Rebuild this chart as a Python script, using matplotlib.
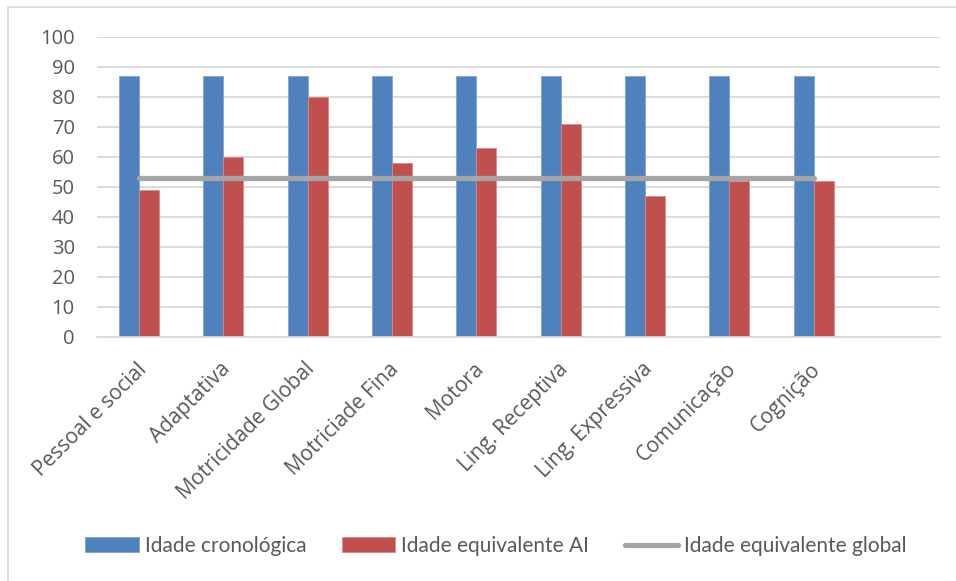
import matplotlib
matplotlib.use("Agg")
import matplotlib.pyplot as plt
import numpy as np
from matplotlib.patches import Rectangle

categories = ["Pessoal e social", "Adaptativa", "Motricidade Global", "Motriciade Fina",
              "Motora", "Ling. Receptiva", "Ling. Expressiva", "Comunicação", "Cognição"]
idade_cronologica = [87, 87, 87, 87, 87, 87, 87, 87, 87]
idade_equivalente_ai = [49, 60, 80, 58, 63, 71, 47, 52, 52]
idade_equivalente_global = [53, 53, 53, 53, 53, 53, 53, 53, 53]
y_ticks = [0, 10, 20, 30, 40, 50, 60, 70, 80, 90, 100]

blue = "#4f81bd"
red = "#c0504d"
gray = "#a5a5a5"
text_col = "#595959"
grid_col = "#d9d9d9"

fig = plt.figure(figsize=(9.56, 5.81), dpi=100)
fig.patches.append(Rectangle((8 / 956, -0.1), 1.2, (581 - 7) / 581 + 0.1,
                             transform=fig.transFigure, fill=False,
                             edgecolor=grid_col, linewidth=1.2, zorder=0))

ax = fig.add_axes([97 / 956, (581 - 337) / 581, (940 - 97) / 956, (337 - 36.7) / 581])

x = np.arange(len(categories))
w = 0.237
h1 = ax.bar(x - w / 2, idade_cronologica, width=w, color=blue, edgecolor="#7fa3d1",
            linewidth=0.6, label="Idade cronológica", zorder=2)
h2 = ax.bar(x + w / 2, idade_equivalente_ai, width=w, color=red, edgecolor="#d88a88",
            linewidth=0.6, label="Idade equivalente AI", zorder=2)
h3, = ax.plot(x, idade_equivalente_global, color=gray, linewidth=3.8,
              solid_capstyle="round", label="Idade equivalente global", zorder=3)

ax.set_xlim(-0.5, len(categories) + 0.5)
ax.set_ylim(0, 100)
ax.set_yticks(y_ticks)
ax.set_yticklabels([str(v) for v in y_ticks], fontsize=14.5, color=text_col,
                   family="Open Sans")
ax.yaxis.grid(True, color=grid_col, linewidth=1.3, zorder=0)
ax.set_axisbelow(True)
for s in ["left", "right", "top"]:
    ax.spines[s].set_visible(False)
ax.spines["bottom"].set_color(grid_col)
ax.spines["bottom"].set_linewidth(1.3)
ax.tick_params(axis="y", length=0, pad=16)
ax.tick_params(axis="x", length=0, pad=21)

ax.set_xticks(x + 0.05)
ax.set_xticklabels(categories, rotation=45, ha="right", va="center",
                   rotation_mode="anchor", fontsize=15, color=text_col,
                   family="Open Sans")

leg = fig.legend(handles=[h1, h2, h3], loc="center",
                 bbox_to_anchor=(496 / 956, (581 - 546) / 581),
                 ncol=3, frameon=False, handlelength=2.55, handleheight=0.7,
                 handletextpad=0.3, columnspacing=1.7,
                 prop={"family": "Lato", "size": 15})
for t in leg.get_texts():
    t.set_color(text_col)

fig.savefig("out.png", dpi=100)
